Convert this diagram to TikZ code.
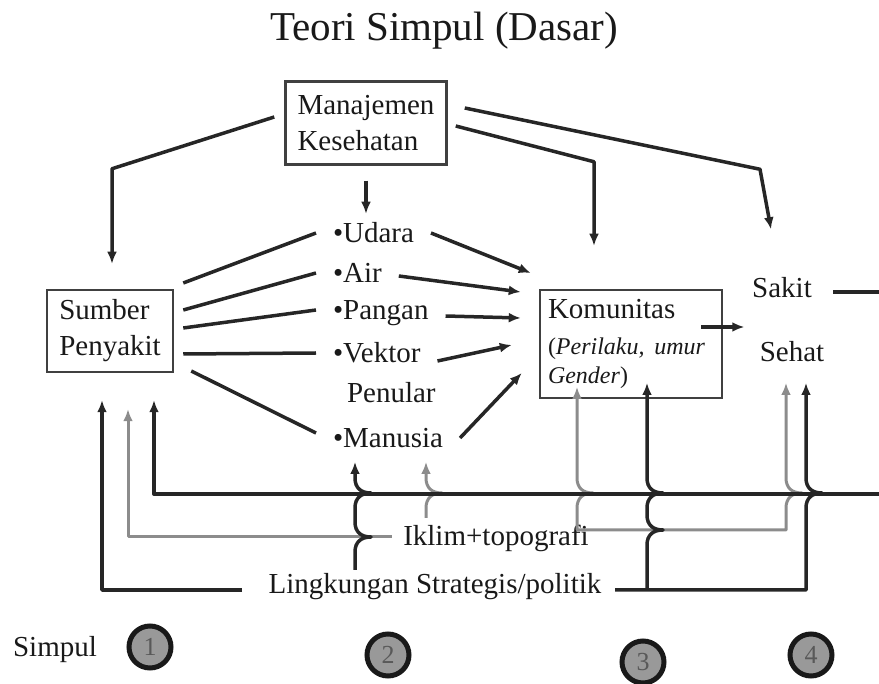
\documentclass[tikz,border=0pt]{standalone}
\usepackage{fontspec}
\setmainfont{Liberation Serif}
\usetikzlibrary{arrows.meta,calc}

\newcommand{\tulisan}{\fontsize{29}{36}\selectfont}
% lompatan kecil di tempat garis bersilang
\newcommand{\lompat}{.. controls +(0,-10) and +(-10,0) .. ++(16,-15) .. controls +(-10,0) and +(0,10) .. ++(-16,-15)}

\tikzset{
  kotak/.style={draw=black!75,line width=2.5pt,align=left,inner sep=7pt},
  butir/.style={anchor=west,inner sep=2pt,outer xsep=15pt},
  garis/.style={line width=3.5pt,draw=black!85,line join=round},
  panah/.style={garis,-{Latex[length=12pt,width=10pt]}},
  panahabu/.style={line width=3pt,draw=black!45,line join=round,-{Latex[length=12pt,width=10pt]}},
  simpul/.style={circle,draw=black!90,line width=5pt,fill=black!40,minimum size=42pt,inner sep=0pt,
    text=black!65,font=\fontsize{26}{26}\selectfont},
}

\begin{document}
\begin{tikzpicture}[x=1pt,y=-1pt,font=\tulisan,text=black!90]
    \useasboundingbox (0,0) rectangle (879,684);

    % Judul
    \node[font=\fontsize{41}{48}\selectfont] (judul) at (444,31) {Teori Simpul (Dasar)};

    % Kotak
    \node[kotak,minimum width=161pt,minimum height=83pt] (manajemen) at (366,123) {Manajemen\\Kesehatan};
    \node[kotak,minimum width=126pt,minimum height=82pt] (sumber) at (110,331) {Sumber\\Penyakit};
    \node[kotak,minimum width=182pt,minimum height=108pt,text width=166pt] (komunitas) at (631,344)
        {Komunitas\\[7pt]{\fontsize{24}{29}\selectfont(\textit{Perilaku, umur}\\\textit{Gender})\par}};

    % Media transmisi
    \node[butir] (udara) at (316,233) {\textbullet Udara};
    \node[butir] (air) at (316,273) {\textbullet Air};
    \node[butir] (pangan) at (316,313) {\textbullet Pangan};
    \node[butir] (vektor) at (316,353) {\textbullet Vektor};
    \node[butir] (penular) at (330,393) {Penular};
    \node[butir] (manusia) at (316,438) {\textbullet Manusia};

    % Dampak
    \node (sakit) at (782,288) {Sakit};
    \node (sehat) at (792,352) {Sehat};

    % Variabel lingkungan
    \node (iklim) at (496,538) {Iklim+topografi};
    \node (lingk) at (435,587) {Lingkungan Strategis/politik};

    % Simpul
    \node (labelsimpul) at (55,650) {Simpul};
    \node[simpul] (s1) at (150,647) {1};
    \node[simpul] (s2) at (388,655) {2};
    \node[simpul] (s3) at (643,662) {3};
    \node[simpul] (s4) at (811,655) {4};

    % Dari Manajemen Kesehatan
    \draw[panah] ($(manajemen.west)+(-10,-6)$) -- ($(sumber.north)+(2,-120)$) -- ($(sumber.north)+(2,-25)$);
    \draw[panah] ($(manajemen.east)+(8,3)$) -- ($(komunitas.north)+(-37,-127)$) -- ($(komunitas.north)+(-37,-43)$);
    \draw[panah] ($(manajemen.east)+(17,-15)$) -- ($(sakit.north)+(-22,-105)$) -- ($(sakit.north)+(-11,-45)$);
    \draw[panah] ($(manajemen.south)+(0,15)$) -- ($(manajemen.south)+(0,48)$);

    % Sumber ke media
    \draw[garis] ($(sumber.east)+(9,-48)$) -- (udara.west);
    \draw[garis] ($(sumber.east)+(9,-21)$) -- (air.west);
    \draw[garis] ($(sumber.east)+(9,-3)$) -- ($(pangan.west)+(0,-3)$);
    \draw[garis] ($(sumber.east)+(9,23)$) -- (vektor.west);
    \draw[garis] ($(sumber.east)+(17,40)$) -- ($(manusia.west)+(0,-5)$);

    % Media ke Komunitas
    \draw[panah] (udara.east) -- ($(komunitas.west)+(-8,-71)$);
    \draw[panah] ($(air.east)+(0,3)$) -- ($(komunitas.west)+(-18,-52)$);
    \draw[panah] ($(pangan.east)+(0,3)$) -- ($(komunitas.west)+(-18,-26)$);
    \draw[panah] ($(vektor.east)+(0,8)$) -- ($(komunitas.west)+(-27,1)$);
    \draw[panah] (manusia.east) -- ($(komunitas.west)+(-17,29)$);

    % Komunitas ke Sakit/Sehat
    \draw[panah] ($(komunitas.east)+(-22,-17)$) -- ($(komunitas.east)+(21,-17)$);

    % Iklim+topografi
    \draw[panahabu] ($(iklim.west)+(-8,-1)$) -| ($(sumber.south)+(18,36)$);
    \draw[panahabu] ($(iklim.center)+(-70,-20)$) -- ++(0,-10) \lompat -- ++(0,-16);
    \draw[panahabu] ($(iklim.center)+(81,-8)$) -- ++(0,-22) \lompat -- ++(0,-91);
    \draw[panahabu] ($(iklim.center)+(81,-8)$) -- ++(209,0) -- ++(0,-22) \lompat -- ++(0,-95);

    % Umpan balik dari Sakit
    \draw[panah] ($(sakit.east)+(18,4)$) -- ++(51,0) |- ($(sumber.south)+(44,121)$) -- ($(sumber.south)+(44,27)$);

    % Lingkungan strategis/politik
    \draw[panah] ($(lingk.west)+(-23,3)$) -| ($(sumber.south)+(-8,27)$);
    \draw[panah] ($(lingk.center)+(-80,-17)$) -- ++(0,-18) \lompat -- ++(0,-14) \lompat -- ++(0,-16);
    \draw[panah] ($(lingk.center)+(212,3)$) -- ++(0,-45) \lompat -- ++(0,-7) \lompat -- ++(0,-95);
    \draw[panah] ($(lingk.center)+(180,3)$) -- ++(191,0) -- ++(0,-82) \lompat -- ++(0,-95);
\end{tikzpicture}
\end{document}
